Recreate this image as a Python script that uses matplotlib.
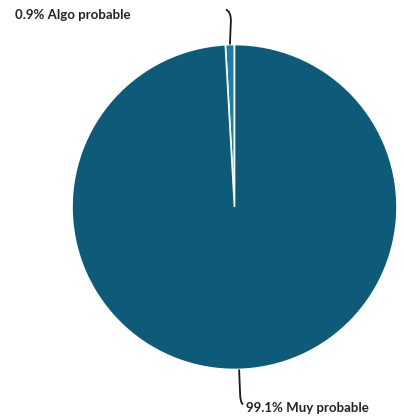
import numpy as np
import matplotlib
matplotlib.use("Agg")
import matplotlib.pyplot as plt
from matplotlib.path import Path
from matplotlib.patches import PathPatch

labels = ["Algo probable", "Muy probable"]
shares = [0.9, 99.1]
colors = ["#1b7ea6", "#0d5a79"]

W, H = 404, 419
fig = plt.figure(figsize=(W / 100, H / 100), dpi=100)
ax = fig.add_axes([0, 0, 1, 1])

cx, cy, r = 234.5, H - 207, 162.5
wedges, _ = ax.pie(shares, colors=colors, startangle=90, counterclock=True,
                   center=(cx, cy), radius=r, frame=True,
                   wedgeprops=dict(edgecolor="white", linewidth=1.2))
ax.set_xlim(0, W)
ax.set_ylim(0, H)
ax.axis("off")

for w, lab, val in zip(wedges, labels, shares):
    mid = np.deg2rad((w.theta1 + w.theta2) / 2)
    x0 = cx + r * np.cos(mid)
    y0 = cy + r * np.sin(mid)
    s = np.sign(np.sin(mid))  # +1 top, -1 bottom
    # leader: straight out, then a small curl toward the label
    side = -1 if s > 0 else 1
    p1 = (x0 + 1, y0 + s * 24)
    p2 = (x0 + 1, y0 + s * 33)
    p3 = (x0 + side * 4, y0 + s * 35)
    path = Path([(x0, y0), p1, p2, p3],
                [Path.MOVETO, Path.LINETO, Path.CURVE3, Path.CURVE3])
    ax.add_patch(PathPatch(path, fill=False, edgecolor="#1a1a1a", lw=1.3))
    txt = f"{val:.1f}% {lab}"
    if s > 0:
        ax.text(p3[0] - 95, p3[1] - 5, txt, ha="right", va="center",
                fontsize=9.5, fontweight="bold", family="Lato", color="#222222")
    else:
        ax.text(p3[0] + 3, p3[1] - 4, txt, ha="left", va="center",
                fontsize=9.5, fontweight="bold", family="Lato", color="#222222")

fig.savefig("out.png", dpi=100)
